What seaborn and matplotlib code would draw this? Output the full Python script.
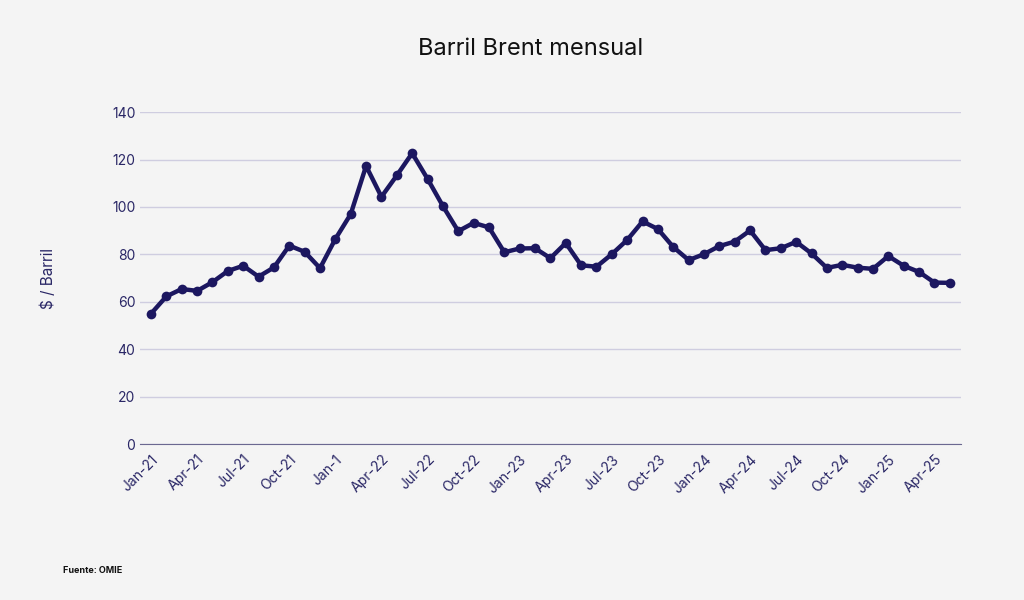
import matplotlib
matplotlib.use("Agg")
import matplotlib.pyplot as plt
import seaborn as sns
import pandas as pd

values = [55, 62.3, 65.4, 64.6, 68.3, 73, 75.2, 70.6, 74.5, 83.7, 81.1, 74.2,
          86.5, 97, 117.3, 104.3, 113.3, 122.7, 111.9, 100.4, 89.8, 93.3, 91.4, 80.9,
          82.5, 82.6, 78.4, 84.8, 75.4, 74.8, 80.1, 86.1, 93.9, 90.7, 83.1, 77.6,
          80.1, 83.5, 85.4, 90.1, 81.8, 82.6, 85.3, 80.4, 74.3, 75.6, 74.4, 73.9,
          79.3, 75.2, 72.6, 68.1, 68.0]
tick_labels = ["Jan-21", "Apr-21", "Jul-21", "Oct-21", "Jan-1", "Apr-22", "Jul-22", "Oct-22",
               "Jan-23", "Apr-23", "Jul-23", "Oct-23", "Jan-24", "Apr-24", "Jul-24", "Oct-24",
               "Jan-25", "Apr-25"]

df = pd.DataFrame({"i": range(len(values)), "v": values})
color = "#1c1760"
txt = "#2a2766"
plt.rcParams["font.family"] = "Inter"
fig = plt.figure(figsize=(10.24, 6.0), dpi=100, facecolor="#f4f4f4")
ax = fig.add_axes([0.137, 0.26, 0.801, 0.553], facecolor="#f4f4f4")
sns.lineplot(data=df, x="i", y="v", ax=ax, color=color, linewidth=3.2, marker="o",
             markersize=7, markeredgewidth=0)
ax.set_ylim(0, 140)
ax.set_yticks(range(0, 141, 20))
ax.set_xlim(-0.7, len(values) - 0.3)
ax.set_xticks(range(0, len(values), 3))
ax.set_xticklabels(tick_labels, rotation=45, ha="right", rotation_mode="anchor")
ax.tick_params(axis="both", colors=txt, labelsize=10, length=0)
ax.tick_params(axis="x", pad=6)
ax.grid(axis="y", color="#cfcde0", linewidth=1)
ax.set_axisbelow(True)
for s in ["top", "right", "left"]:
    ax.spines[s].set_visible(False)
ax.spines["bottom"].set_color("#6b6890")
ax.set_xlabel("")
ax.set_ylabel("$ / Barril", color=txt, fontsize=11, labelpad=40)
fig.text(0.518, 0.918, "Barril Brent mensual", ha="center", va="center", fontsize=17, color="#111111")
fig.text(0.062, 0.045, "Fuente: OMIE", fontsize=6.5, color="#111111", fontweight="bold")
fig.savefig("out.png", dpi=100, facecolor=fig.get_facecolor())
